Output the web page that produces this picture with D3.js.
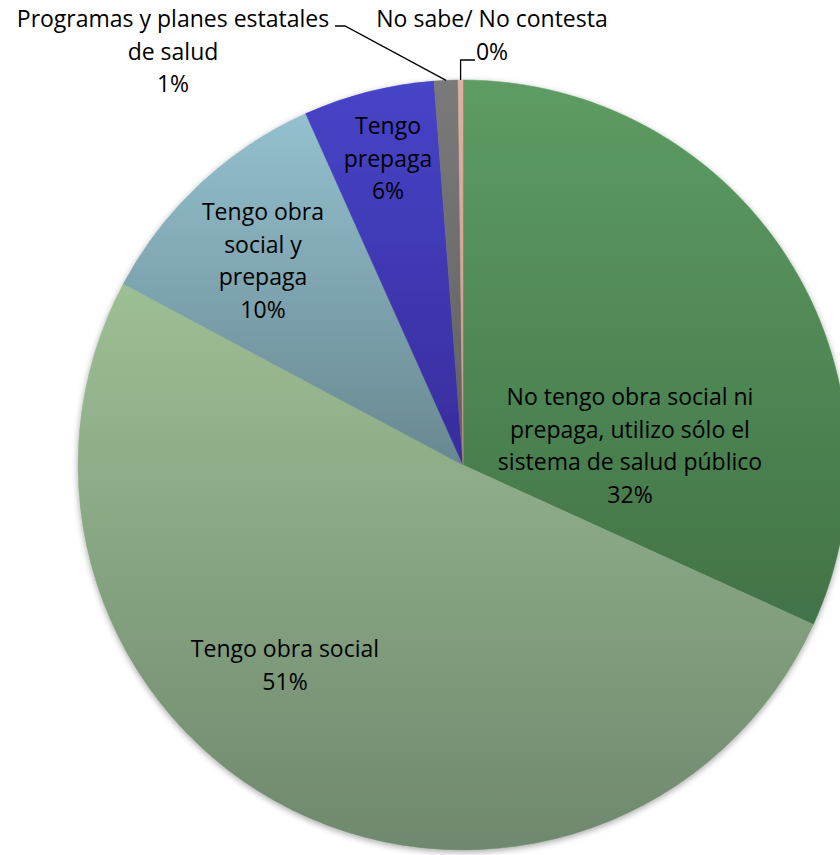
<!DOCTYPE html>
<html>
<head>
<meta charset="utf-8">
<script src="https://cdn.jsdelivr.net/npm/d3@7"></script>
<style>
  html, body { margin: 0; padding: 0; background: #fff; }
  svg { display: block; }
  text { font-family: "Open Sans", sans-serif; font-size: 23px; fill: #000; }
</style>
</head>
<body>
<script>
// ---- data ----
const categories = [
  "No tengo obra social ni prepaga, utilizo sólo el sistema de salud público",
  "Tengo obra social",
  "Tengo obra social y prepaga",
  "Tengo prepaga",
  "Programas y planes estatales de salud",
  "No sabe/ No contesta"
];
const values = [31.8, 51.0, 10.5, 5.5, 1.0, 0.2];
const percentLabels = ["32%", "51%", "10%", "6%", "1%", "0%"];
const labelLines = [
  ["No tengo obra social ni", "prepaga, utilizo sólo el", "sistema de salud público"],
  ["Tengo obra social"],
  ["Tengo obra", "social y", "prepaga"],
  ["Tengo", "prepaga"],
  ["Programas y planes estatales", "de salud"],
  ["No sabe/ No contesta"]
];

// ---- styles / layout ----
const W = 840, H = 855;
const cx = 463, cy = 465, R = 385;
const gradTop = ["#5d9c63", "#9dbf94", "#94c0cf", "#4744c8", "#7a7a7a", "#e0b0a0"];
const gradBot = ["#427347", "#6f886e", "#688890", "#382c9c", "#606060", "#c89888"];
// first-baseline positions of labels (x = center of text)
const labelPos = [
  [630, 405], [285, 657], [263, 220], [388, 134], [173, 27], [492, 27]
];
const lineH = 32.5;

const svg = d3.select("body").append("svg").attr("width", W).attr("height", H);
const defs = svg.append("defs");

const f = defs.append("filter").attr("id", "shadow")
  .attr("x", "-10%").attr("y", "-10%").attr("width", "120%").attr("height", "120%");
f.append("feDropShadow").attr("dx", 0).attr("dy", 2).attr("stdDeviation", 3)
  .attr("flood-color", "#000").attr("flood-opacity", 0.35);

categories.forEach((c, i) => {
  const g = defs.append("linearGradient").attr("id", "g" + i)
    .attr("x1", 0).attr("y1", 0).attr("x2", 0).attr("y2", 1);
  g.append("stop").attr("offset", "0%").attr("stop-color", gradTop[i]);
  g.append("stop").attr("offset", "100%").attr("stop-color", gradBot[i]);
});

const pie = d3.pie().sort(null).value(d => d).startAngle(0).endAngle(2 * Math.PI);
const arcs = pie(values);
const arc = d3.arc().innerRadius(0).outerRadius(R);

const gPie = svg.append("g").attr("transform", `translate(${cx},${cy})`);
const gShadow = gPie.append("g").attr("filter", "url(#shadow)");
gShadow.selectAll("path").data(arcs).join("path")
  .attr("d", arc)
  .attr("fill", (d, i) => `url(#g${i})`)
  .attr("stroke", (d, i) => `url(#g${i})`)
  .attr("stroke-width", 0.5);

// leader lines for outside labels
const outer = d3.arc().innerRadius(R).outerRadius(R);
const pProg = outer.centroid(arcs[4]);
const pNs = outer.centroid(arcs[5]);
const leaders = svg.append("g").attr("fill", "none").attr("stroke", "#000").attr("stroke-width", 1.3);
leaders.append("path")
  .attr("d", `M335,26 L345,26 L${cx + pProg[0]},${cy + pProg[1]}`);
leaders.append("path")
  .attr("d", `M475,60 L${cx + pNs[0]},60 L${cx + pNs[0]},${cy + pNs[1]}`);

// labels
const gLab = svg.append("g").attr("text-anchor", "middle");
categories.forEach((c, i) => {
  const lines = labelLines[i].concat([percentLabels[i]]);
  const t = gLab.append("text").attr("x", labelPos[i][0]).attr("y", labelPos[i][1]);
  lines.forEach((ln, k) => {
    t.append("tspan").attr("x", labelPos[i][0]).attr("dy", k === 0 ? 0 : lineH).text(ln);
  });
});
</script>
</body>
</html>
